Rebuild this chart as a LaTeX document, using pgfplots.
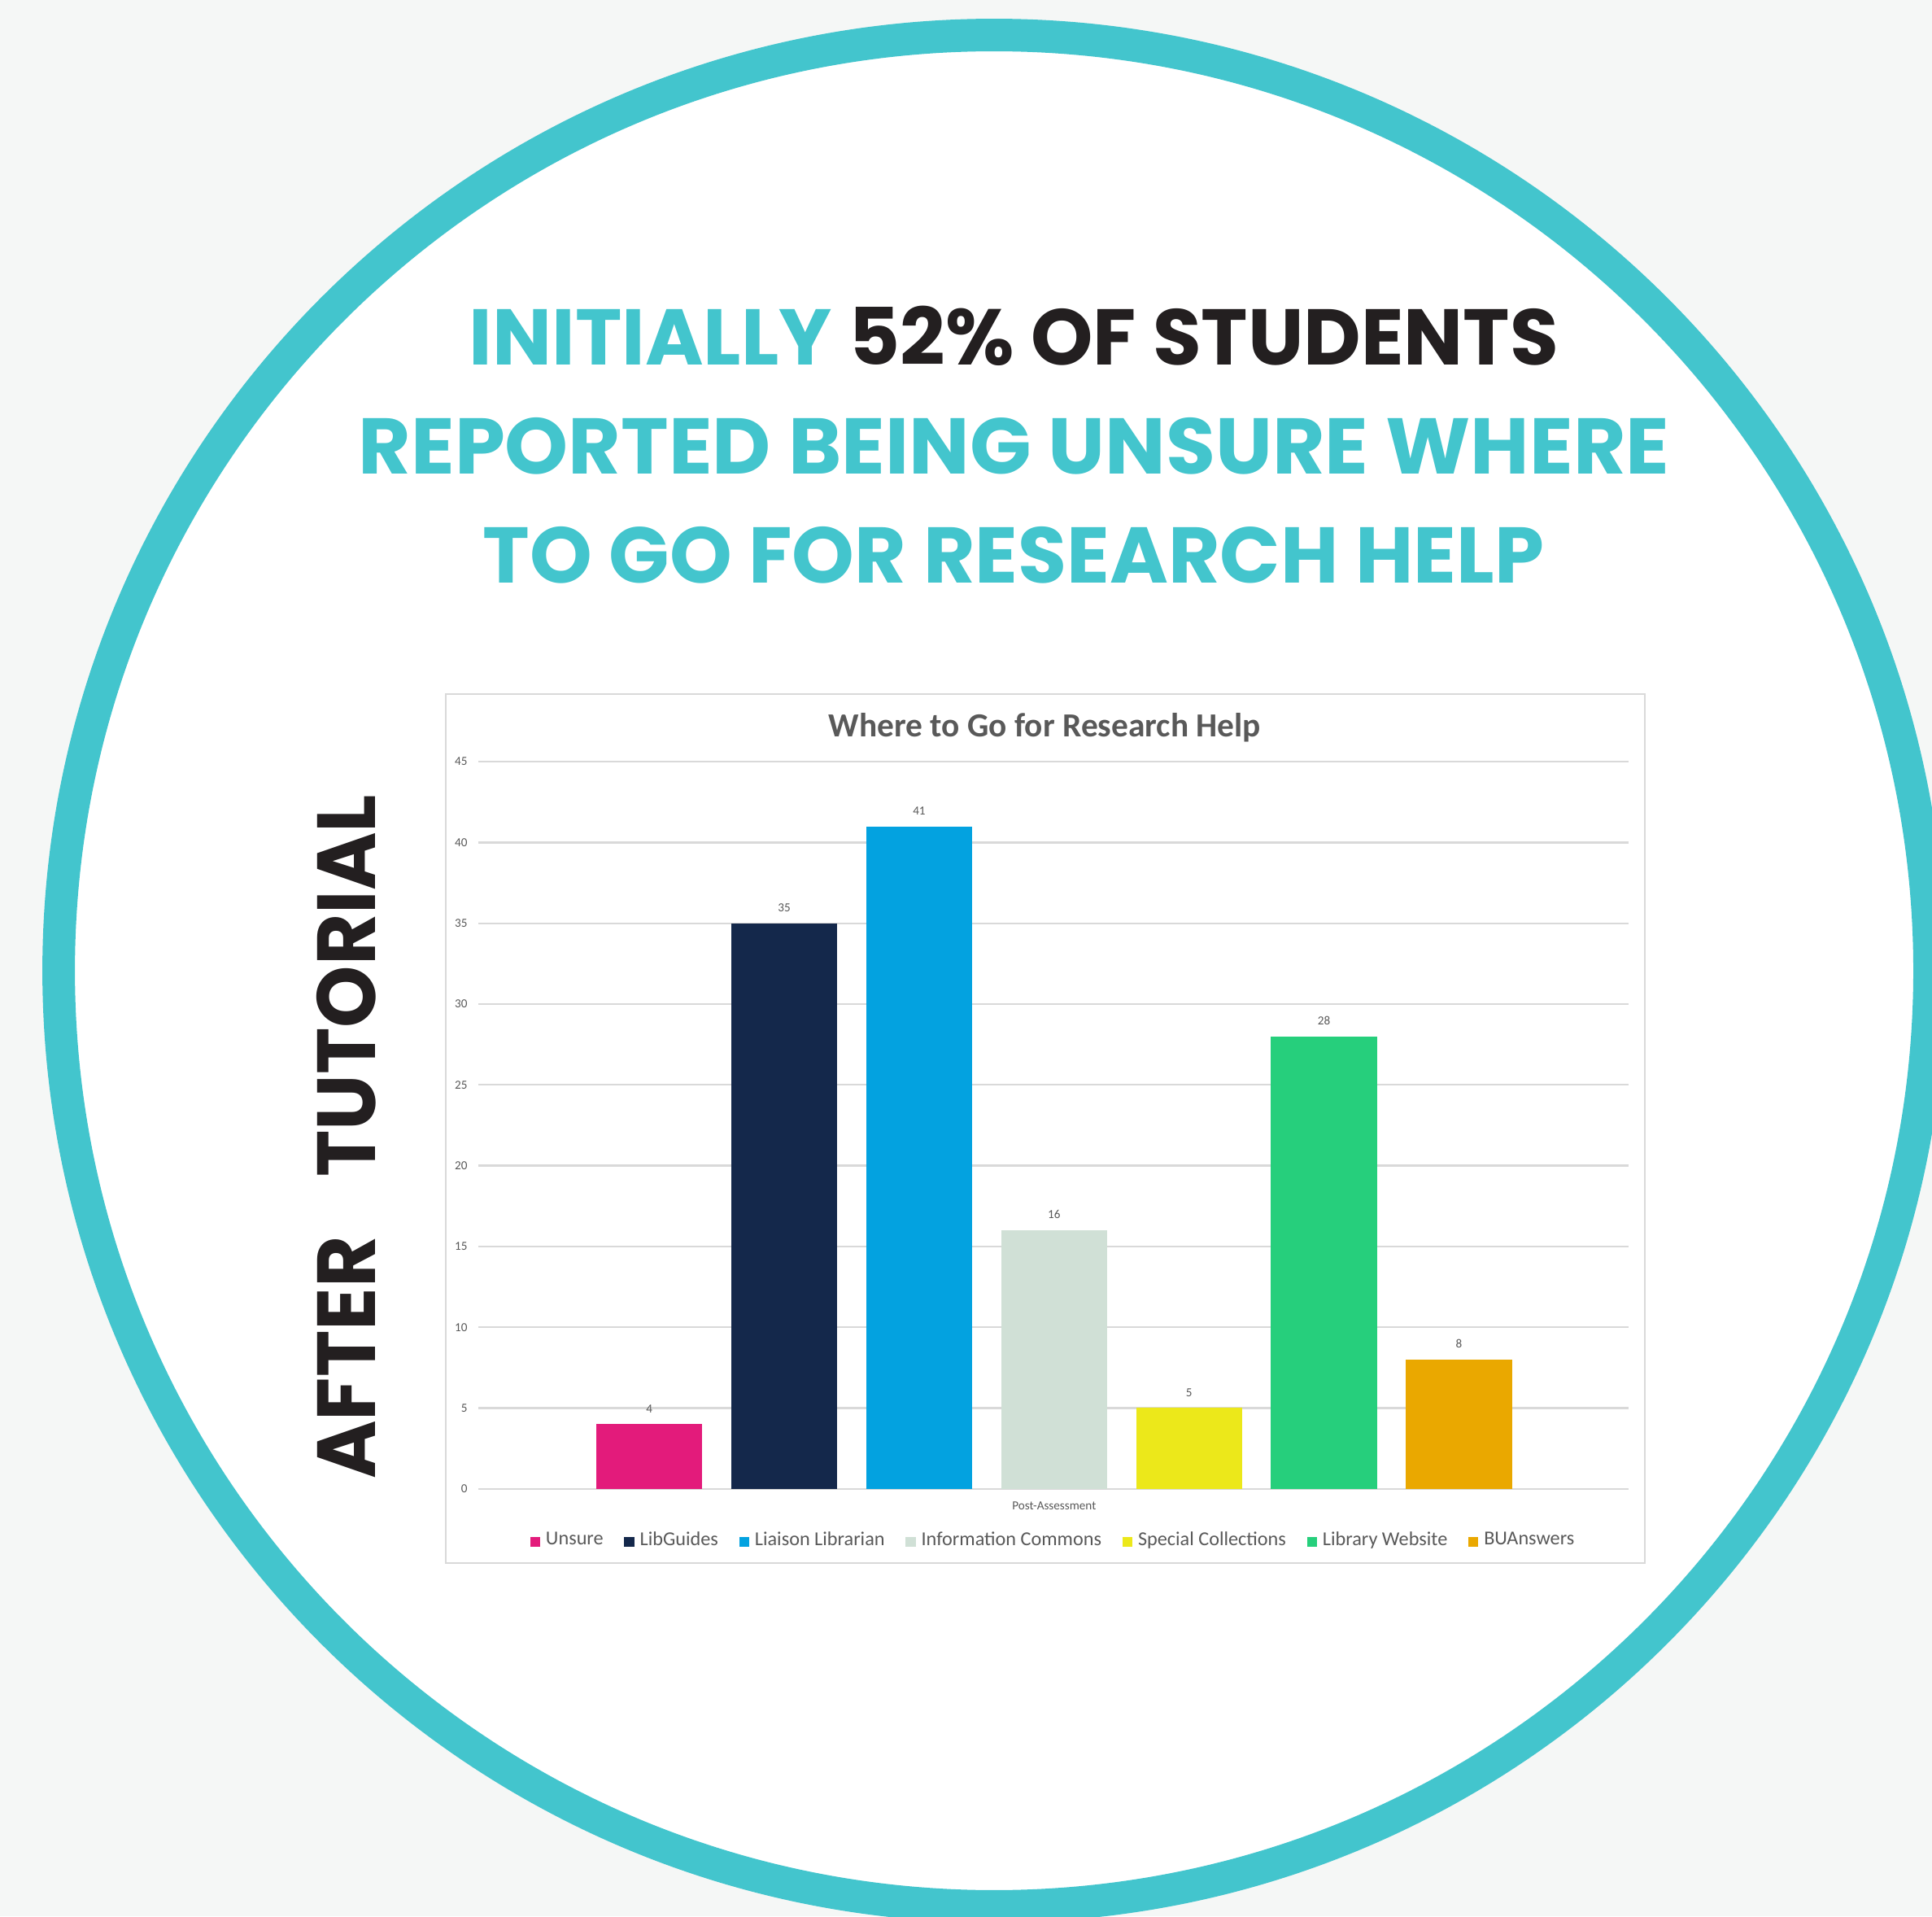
\documentclass[border=0pt]{standalone}
\usepackage{pgfplots}
\pgfplotsset{compat=1.18}
\usepackage{fontspec}
\setmainfont{Carlito}
\newfontfamily\poppins{Poppins}
\definecolor{bg}{HTML}{F5F7F6}
\definecolor{ring}{HTML}{43C5CD}
\definecolor{dark}{HTML}{231F20}
\definecolor{gridgray}{HTML}{D9D9D9}
\definecolor{tickgray}{HTML}{595959}
\definecolor{titlegray}{HTML}{595959}
\definecolor{cUnsure}{HTML}{E31B7B}
\definecolor{cLib}{HTML}{14284B}
\definecolor{cLiaison}{HTML}{03A2E0}
\definecolor{cInfo}{HTML}{D0E0D6}
\definecolor{cSpecial}{HTML}{ECE81A}
\definecolor{cWeb}{HTML}{26CF7C}
\definecolor{cBU}{HTML}{EAA800}
\begin{document}
\begin{tikzpicture}
\useasboundingbox (0,0) rectangle (470.4pt,-466.5pt);
\clip (0,0) rectangle (470.4pt,-466.5pt);
\begin{scope}[x=0.3pt,y=-0.3pt]
\fill[bg] (0,0) rectangle (1568,1555);
\fill[white] (806.8,787.6) circle (760);
\draw[ring, line width=7.92pt] (806.8,787.6) circle (759.2);
\node[anchor=base, inner sep=0pt, text=ring] at (823,296)
  {\poppins\bfseries\resizebox{265.2pt}{13.5pt}{\smash{INITIALLY \textcolor{dark}{52\% OF STUDENTS}}\vphantom{I}}};
\node[anchor=base, inner sep=0pt, text=ring] at (823,384.5)
  {\poppins\bfseries\resizebox{319.2pt}{13.5pt}{\smash{REPORTED BEING UNSURE WHERE}\vphantom{I}}};
\node[anchor=base, inner sep=0pt, text=ring] at (822.5,473)
  {\poppins\bfseries\resizebox{258.3pt}{13.5pt}{\smash{TO GO FOR RESEARCH HELP}\vphantom{I}}};
\node[rotate=90, anchor=base, inner sep=0pt, text=dark] at (305,922.5)
  {\poppins\bfseries\resizebox{166.5pt}{14.1pt}{\smash{AFTER\hspace{0.75em}TUTORIAL}\vphantom{I}}};
\draw[gridgray, line width=0.4pt, fill=white] (362,563) rectangle (1335,1268);
\node[anchor=base, inner sep=0pt, text=titlegray, font=\bfseries\fontsize{8.2}{9.8}\selectfont] at (848,598) {Where to Go for Research Help};
\end{scope}
\begin{axis}[
 at={(116.4pt,-362.4pt)}, anchor=south west,
 scale only axis, width=280.2pt, height=177pt,
 xmin=-1.269, xmax=7.260, ymin=0, ymax=45,
 ybar, bar width=25.8pt, bar shift=0pt,
 /pgf/number format/assume math mode=true,
 axis line style={draw=none},
 major tick length=0pt,
 ymajorgrids, grid style={color=gridgray, line width=0.45pt},
 ytick={0,5,...,45},
 yticklabel style={font=\fontsize{3}{3.6}\selectfont, text=tickgray, inner sep=0pt, xshift=-2.4pt},
 xtick={3}, xticklabels={Post-Assessment},
 xticklabel style={font=\fontsize{3}{3.6}\selectfont, text=tickgray, inner sep=0pt, yshift=-3pt},
 nodes near coords,
 every node near coord/.append style={font=\fontsize{3}{3.6}\selectfont, text=tickgray, inner sep=0pt, yshift=2.6pt},
 legend columns=7,
 legend style={at={(0.5,-0.073)}, anchor=center, draw=none, fill=none,
   font=\fontsize{4.8}{5.8}\selectfont, text=tickgray,
   /tikz/every even column/.append style={column sep=4.5pt},
   /tikz/every odd column/.append style={column sep=0.8pt},
   inner sep=0pt, nodes={inner sep=0.6pt}},
 legend image code/.code={\draw[#1,draw=none] (0pt,-1.2pt) rectangle (2.4pt,1.2pt);},
]
\addplot[fill=cUnsure, draw=none, bar shift=0pt] coordinates {(0,4)};
\addplot[fill=cLib, draw=none, bar shift=0pt] coordinates {(1,35)};
\addplot[fill=cLiaison, draw=none, bar shift=0pt] coordinates {(2,41)};
\addplot[fill=cInfo, draw=none, bar shift=0pt] coordinates {(3,16)};
\addplot[fill=cSpecial, draw=none, bar shift=0pt] coordinates {(4,5)};
\addplot[fill=cWeb, draw=none, bar shift=0pt] coordinates {(5,28)};
\addplot[fill=cBU, draw=none, bar shift=0pt] coordinates {(6,8)};
\legend{Unsure, LibGuides, Liaison Librarian, Information Commons, Special Collections, Library Website, BUAnswers}
\end{axis}
\end{tikzpicture}
\end{document}
